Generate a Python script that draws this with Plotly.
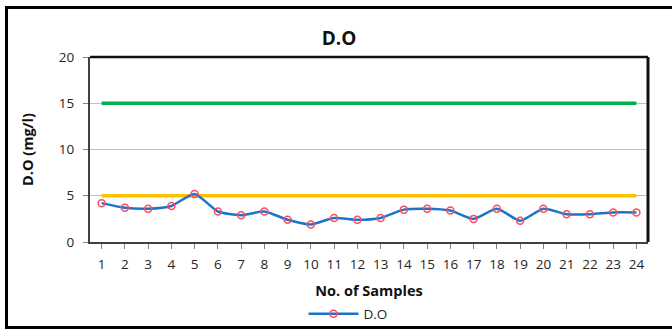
import plotly.graph_objects as go

# Dissolved oxygen per sample (mg/l)
samples = list(range(1, 25))
do_values = [4.2, 3.7, 3.6, 3.9, 5.2, 3.3, 2.9, 3.3, 2.4, 1.9, 2.6, 2.4,
             2.6, 3.5, 3.6, 3.4, 2.5, 3.6, 2.3, 3.6, 3.0, 3.0, 3.2, 3.2]

# Permissible limits
upper_limit = [15] * len(samples)
lower_limit = [5] * len(samples)

y_ticks = [0, 5, 10, 15, 20]

W, H = 672, 329
L, R, T, B = 90, 24, 57, 87
pw, ph = W - L - R, H - T - B


def px_x(p):
    return (p - L) / pw


def px_y(p):
    return (H - B - p) / ph


fig = go.Figure()

fig.add_trace(go.Scatter(
    x=samples, y=upper_limit, mode="lines",
    line=dict(color="#00B050", width=3.5), showlegend=False, hoverinfo="skip"))
fig.add_trace(go.Scatter(
    x=samples, y=lower_limit, mode="lines",
    line=dict(color="#FFC000", width=3.5), showlegend=False, hoverinfo="skip"))
fig.add_trace(go.Scatter(
    x=samples, y=do_values, mode="lines+markers", name="D.O",
    line=dict(color="#1A75C8", width=2.5, shape="spline", smoothing=0.6),
    marker=dict(symbol="circle-open", size=7, color="#FF4B5C",
                line=dict(width=1.5, color="#FF4B5C"))))

fig.update_layout(
    width=W, height=H,
    margin=dict(l=L, r=R, t=T, b=B, autoexpand=False),
    paper_bgcolor="white", plot_bgcolor="white",
    font=dict(family="Open Sans, Calibri, sans-serif", color="#262626", size=13),
    title=dict(text="<b>D.O</b>", x=(339) / W, xanchor="center",
               y=1 - 38 / H, yanchor="middle",
               font=dict(size=19, color="#111111")),
    xaxis=dict(
        range=[0.5, 24.5], tickvals=samples, ticktext=[str(s) for s in samples],
        ticks="outside", ticklen=5, tickcolor="#7f7f7f", ticklabelstandoff=4,
        showgrid=False, zeroline=False, automargin=False,
        showline=True, linecolor="#404040", linewidth=2, mirror=False,
        tickfont=dict(size=13.5, color="#262626"),
        title=dict(text="<b>No. of Samples</b>", standoff=14,
                   font=dict(size=14.5, color="#111111")),
    ),
    yaxis=dict(
        range=[0, 20], tickvals=y_ticks,
        ticks="outside", ticklen=5, tickcolor="#7f7f7f", ticklabelstandoff=6,
        showgrid=True, gridcolor="#BFBFBF", gridwidth=1.2, zeroline=False,
        showline=True, linecolor="#404040", linewidth=2, automargin=False,
        tickfont=dict(size=13.5, color="#262626"),
        title=dict(text="<b>D.O (mg/l)</b>", standoff=22,
                   font=dict(size=14.5, color="#111111")),
    ),
    legend=dict(orientation="h", x=px_x(348), xanchor="center",
                y=px_y(314), yanchor="middle", itemwidth=50,
                font=dict(size=13.5, color="#262626"),
                bgcolor="rgba(0,0,0,0)"),
    showlegend=True,
)

# Dark top/right edges of the plotting area
fig.add_shape(type="line", xref="paper", yref="paper", x0=0, x1=1, y0=1, y1=1,
              line=dict(color="#111111", width=2.5))
fig.add_shape(type="line", xref="paper", yref="paper", x0=1, x1=1, y0=0, y1=1,
              line=dict(color="#111111", width=3))

# Outer frame around the chart
fig.add_shape(type="rect", xref="paper", yref="paper",
              x0=px_x(6.5), x1=px_x(690), y0=px_y(327.5), y1=px_y(7.5),
              line=dict(color="#000000", width=3), layer="above")

fig.write_html("out.html")
